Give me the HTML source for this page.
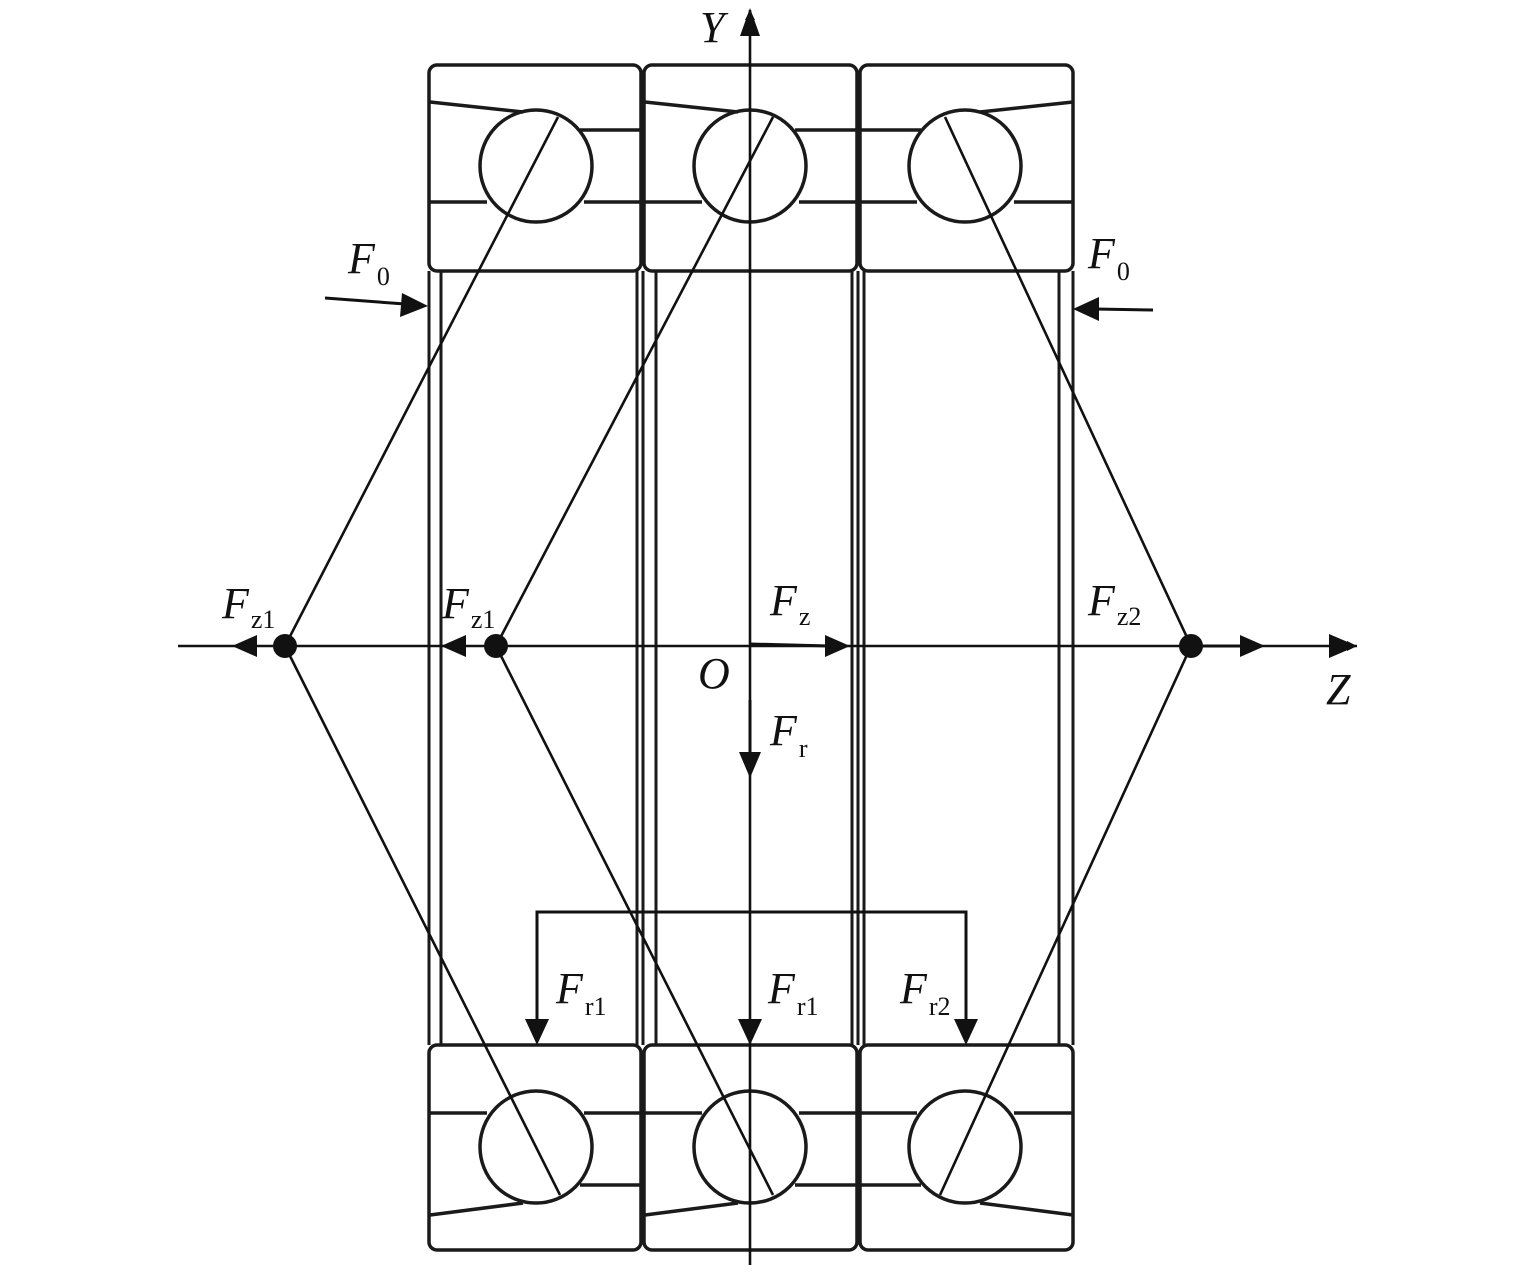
<!DOCTYPE html>
<html><head><meta charset="utf-8"><style>
html,body{margin:0;padding:0;background:#fff;}
svg{display:block;}
text{font-family:"Liberation Serif",serif;fill:#111;}
.L{font-size:44px;font-style:italic;}
.s{font-size:26px;font-style:normal;}
</style></head><body>
<svg width="1535" height="1274" viewBox="0 0 1535 1274" xmlns="http://www.w3.org/2000/svg">
<defs>
<marker id="a" viewBox="0 0 10 10" refX="10" refY="5" markerWidth="10" markerHeight="10" markerUnits="userSpaceOnUse" orient="auto"><path d="M0,0 L10,5 L0,10z" fill="#111"/></marker>
</defs>
<g fill="none" stroke="#1a1a1a" stroke-width="3.5">
<!-- top outer rings -->
<rect x="429" y="65" width="212" height="206" rx="8"/>
<rect x="644" y="65" width="213" height="206" rx="8"/>
<rect x="860" y="65" width="213" height="206" rx="8"/>
<!-- bottom outer rings -->
<rect x="429" y="1045" width="212" height="205" rx="8"/>
<rect x="644" y="1045" width="213" height="205" rx="8"/>
<rect x="860" y="1045" width="213" height="205" rx="8"/>
<!-- top raceway lines -->
<path d="M430,102 L523,112 M580,130 H641 M430,202 H487 M584,202 H641"/>
<path d="M645,102 L738,112 M795,130 H857 M645,202 H702 M799,202 H857"/>
<path d="M1073,102 L980,112 M860,130 H921 M860,202 H917 M1014,202 H1073"/>
<circle cx="536" cy="166" r="56"/>
<circle cx="750" cy="166" r="56"/>
<circle cx="965" cy="166" r="56"/>
<!-- bottom raceway lines -->
<path d="M430,1215 L523,1203 M430,1113 H487 M584,1113 H641 M580,1185 H641"/>
<path d="M645,1215 L738,1203 M645,1113 H702 M799,1113 H857 M795,1185 H857"/>
<path d="M1073,1215 L980,1203 M860,1113 H917 M1014,1113 H1073 M860,1185 H921"/>
<circle cx="536" cy="1147" r="56"/>
<circle cx="750" cy="1147" r="56"/>
<circle cx="965" cy="1147" r="56"/>
<!-- inner vertical lines -->
<path d="M429,271 V1045 M441,271 V1045 M637,271 V1045 M643,271 V1045 M656,271 V1045 M852,271 V1045 M858,271 V1045 M864,271 V1045 M1059,271 V1045 M1073,271 V1045" stroke-width="3"/>
</g>
<g fill="none" stroke="#111" stroke-width="2.6">
<!-- contact lines -->
<path d="M558,117 L285,646 L560,1195"/>
<path d="M773,117 L496,646 L773,1195"/>
<path d="M945,117 L1191,646 L940,1195"/>
<!-- axes -->
<line x1="178" y1="646" x2="1357" y2="646" marker-end="url(#a)" stroke-width="2.6"/>
<line x1="750" y1="1265" x2="750" y2="10" marker-end="url(#a)"/>
</g>
<g fill="#111">
<path d="M1357,646 l-28,-12 v24z"/>
<path d="M750,8 l-10,28 h20z"/>
<circle cx="285" cy="646" r="12"/>
<circle cx="496" cy="646" r="12"/>
<circle cx="1191" cy="646" r="12"/>
<!-- Fz1 arrowheads -->
<path d="M232,646 l25,-11 v22z"/>
<path d="M441,646 l25,-11 v22z"/>
<!-- Fz -->
<path d="M850,646 l-25,-11 v22z"/>
<!-- Fz2 -->
<path d="M1265,646 l-25,-11 v22z"/>
<!-- Fr -->
<path d="M750,778 l-11,-26 h22z"/>
<!-- Fr1 Fr1 Fr2 -->
<path d="M537,1045 l-12,-26 h24z"/>
<path d="M750,1045 l-12,-26 h24z"/>
<path d="M966,1045 l-12,-26 h24z"/>
<!-- F0 -->
<path d="M428,306 l-26,-13 l-2,24z"/>
<path d="M1073,309 l26,-12 v24z"/>
</g>
<g stroke="#111" stroke-width="3" fill="none">
<path d="M325,298 L405,304"/>
<path d="M1153,310 L1095,309"/>
<path d="M750,644 L830,646"/>
<path d="M1195,646 H1245"/>
<path d="M537,1022 V912 H966 V1022"/>
<path d="M750,752 V700"/>
</g>
<text class="L" x="700" y="42">Y</text>
<text class="L" x="1326" y="704">Z</text>
<text class="L" x="698" y="688">O</text>
<text class="L" x="348" y="273">F<tspan class="s" dx="2" dy="12">0</tspan></text>
<text class="L" x="1088" y="268">F<tspan class="s" dx="2" dy="12">0</tspan></text>
<text class="L" x="222" y="618">F<tspan class="s" dx="2" dy="10">z1</tspan></text>
<text class="L" x="442" y="618">F<tspan class="s" dx="2" dy="10">z1</tspan></text>
<text class="L" x="770" y="615">F<tspan class="s" dx="2" dy="10">z</tspan></text>
<text class="L" x="1088" y="615">F<tspan class="s" dx="2" dy="10">z2</tspan></text>
<text class="L" x="770" y="745">F<tspan class="s" dx="2" dy="12">r</tspan></text>
<text class="L" x="556" y="1003">F<tspan class="s" dx="2" dy="12">r1</tspan></text>
<text class="L" x="768" y="1003">F<tspan class="s" dx="2" dy="12">r1</tspan></text>
<text class="L" x="900" y="1003">F<tspan class="s" dx="2" dy="12">r2</tspan></text>
</svg>
</body></html>
